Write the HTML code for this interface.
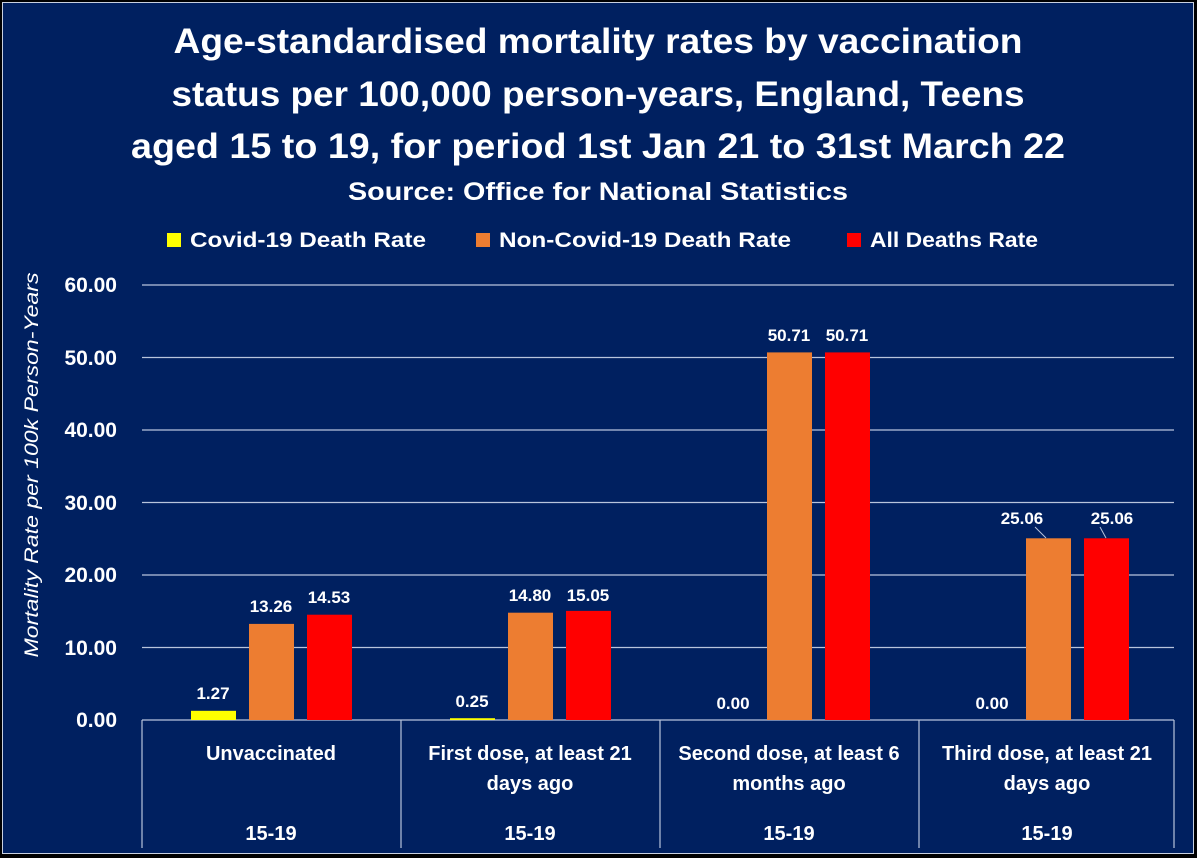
<!DOCTYPE html>
<html><head><meta charset="utf-8"><style>
html,body{margin:0;padding:0;background:#000;}
svg{display:block;}
text{font-family:"Liberation Sans",Arial,sans-serif;fill:#fff;}
</style></head><body>
<svg width="1197" height="858" viewBox="0 0 1197 858">
<rect x="0" y="0" width="1197" height="858" fill="#000"/>
<rect x="2.5" y="2.5" width="1191" height="851" fill="#002060" stroke="#c8d0e0" stroke-width="1"/>
<g font-weight="bold" text-anchor="middle">
<text x="598" y="53" font-size="35" textLength="849" lengthAdjust="spacingAndGlyphs">Age-standardised mortality rates by vaccination</text>
<text x="598" y="106" font-size="35" textLength="853" lengthAdjust="spacingAndGlyphs">status per 100,000 person-years, England, Teens</text>
<text x="598" y="158" font-size="35" textLength="934" lengthAdjust="spacingAndGlyphs">aged 15 to 19, for period 1st Jan 21 to 31st March 22</text>
<text x="598" y="200" font-size="25" textLength="500" lengthAdjust="spacingAndGlyphs">Source: Office for National Statistics</text>
</g>
<rect x="167" y="233" width="14" height="14" fill="#ffff00"/>
<text x="190" y="247" font-size="21" font-weight="bold" textLength="236" lengthAdjust="spacingAndGlyphs">Covid-19 Death Rate</text>
<rect x="476" y="233" width="14" height="14" fill="#ed7d31"/>
<text x="499" y="247" font-size="21" font-weight="bold" textLength="292" lengthAdjust="spacingAndGlyphs">Non-Covid-19 Death Rate</text>
<rect x="847" y="233" width="14" height="14" fill="#ff0000"/>
<text x="870" y="247" font-size="21" font-weight="bold" textLength="168" lengthAdjust="spacingAndGlyphs">All Deaths Rate</text>
<g stroke="#b8c4dc" stroke-width="1.2">
<line x1="142" x2="1174" y1="285" y2="285"/>
<line x1="142" x2="1174" y1="357.5" y2="357.5"/>
<line x1="142" x2="1174" y1="430" y2="430"/>
<line x1="142" x2="1174" y1="502.5" y2="502.5"/>
<line x1="142" x2="1174" y1="575" y2="575"/>
<line x1="142" x2="1174" y1="647.5" y2="647.5"/>
<line x1="142" x2="1174" y1="720" y2="720"/>
<line x1="142" x2="142" y1="720" y2="848"/>
<line x1="401" x2="401" y1="720" y2="848"/>
<line x1="660" x2="660" y1="720" y2="848"/>
<line x1="919" x2="919" y1="720" y2="848"/>
<line x1="1174" x2="1174" y1="720" y2="848"/>
</g>
<g font-size="21" font-weight="bold" text-anchor="end">
<text x="117" y="292">60.00</text>
<text x="117" y="365">50.00</text>
<text x="117" y="437">40.00</text>
<text x="117" y="510">30.00</text>
<text x="117" y="582">20.00</text>
<text x="117" y="655">10.00</text>
<text x="117" y="727">0.00</text>
</g>
<text transform="translate(38,465) rotate(-90)" text-anchor="middle" font-size="19" font-style="italic" textLength="385" lengthAdjust="spacingAndGlyphs">Mortality Rate per 100k Person-Years</text>
<rect x="191" y="710.8" width="45" height="9.2" fill="#ffff00"/>
<rect x="249" y="623.9" width="45" height="96.1" fill="#ed7d31"/>
<rect x="307" y="614.7" width="45" height="105.3" fill="#ff0000"/>
<rect x="450" y="718.2" width="45" height="1.8" fill="#ffff00"/>
<rect x="508" y="612.7" width="45" height="107.3" fill="#ed7d31"/>
<rect x="566" y="610.9" width="45" height="109.1" fill="#ff0000"/>
<rect x="767" y="352.4" width="45" height="367.6" fill="#ed7d31"/>
<rect x="825" y="352.4" width="45" height="367.6" fill="#ff0000"/>
<rect x="1026" y="538.3" width="45" height="181.7" fill="#ed7d31"/>
<rect x="1084" y="538.3" width="45" height="181.7" fill="#ff0000"/>
<g font-size="17" font-weight="bold" text-anchor="middle">
<text x="213" y="699">1.27</text>
<text x="271" y="612">13.26</text>
<text x="329" y="603">14.53</text>
<text x="472" y="707">0.25</text>
<text x="530" y="601">14.80</text>
<text x="588" y="601">15.05</text>
<text x="733" y="709">0.00</text>
<text x="789" y="341">50.71</text>
<text x="847" y="341">50.71</text>
<text x="992" y="709">0.00</text>
<text x="1022" y="524">25.06</text>
<text x="1112" y="524">25.06</text>
</g>
<g stroke="#b8c4dc" stroke-width="1"><line x1="1035" y1="527" x2="1046" y2="538"/><line x1="1100" y1="527" x2="1106" y2="538"/></g>
<g font-size="20" font-weight="bold" text-anchor="middle">
<text x="271" y="760">Unvaccinated</text>
<text x="530" y="760">First dose, at least 21</text>
<text x="530" y="790">days ago</text>
<text x="789" y="760">Second dose, at least 6</text>
<text x="789" y="790">months ago</text>
<text x="1047" y="760">Third dose, at least 21</text>
<text x="1047" y="790">days ago</text>
<text x="271" y="840">15-19</text>
<text x="530" y="840">15-19</text>
<text x="789" y="840">15-19</text>
<text x="1047" y="840">15-19</text>
</g>
</svg>
</body></html>
